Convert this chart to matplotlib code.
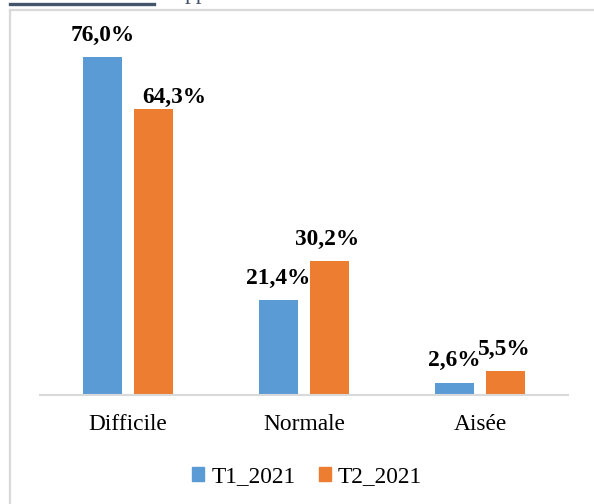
import matplotlib.pyplot as plt
import numpy as np
from matplotlib.lines import Line2D
from matplotlib.patches import Patch

# data
categories = ['Difficile', 'Normale', 'Aisée']
t1_2021 = [76.0, 21.4, 2.6]
t2_2021 = [64.3, 30.2, 5.5]
series_names = ['T1_2021', 'T2_2021']
# label nudges in pixels (dx, dy above bar top), Excel moved "64,3%" by hand
t1_nudge = [(0, 16), (0, 16), (0, 17)]
t2_nudge = [(21, 6), (-2, 16), (-1, 16)]

blue = '#5B9BD5'
orange = '#ED7D31'
font = 'Liberation Serif'
fs = 16.8

fig = plt.figure(figsize=(5.94, 5.04), dpi=100)
ax = fig.add_axes([40 / 594, 109 / 504, 528 / 594, 356 / 504])

x = np.arange(len(categories))
w = 0.222
off = 0.145
b1 = ax.bar(x - off, t1_2021, w, color=blue)
b2 = ax.bar(x + off, t2_2021, w, color=orange)

ax.set_xlim(-0.5, 2.5)
ax.set_ylim(0, 80)
ax.set_yticks([])
ax.set_xticks(x)
ax.set_xticklabels(categories, fontfamily=font, fontsize=fs)
ax.tick_params(axis='x', length=0, pad=13.5)
for s in ['top', 'right', 'left']:
    ax.spines[s].set_visible(False)
ax.spines['bottom'].set_color('#D9D9D9')
ax.spines['bottom'].set_linewidth(1.5)


def pct(v):
    return f'{v:.1f}%'.replace('.', ',')


px = 72 / 100  # pixels -> points
for bars, vals, nudges in [(b1, t1_2021, t1_nudge), (b2, t2_2021, t2_nudge)]:
    for bar, v, (dx, dy) in zip(bars, vals, nudges):
        ax.annotate(pct(v), (bar.get_x() + bar.get_width() / 2, v),
                    xytext=(dx * px, dy * px), textcoords='offset points',
                    ha='center', va='baseline', fontfamily=font,
                    fontsize=fs, fontweight='bold')

# legend
handles = [Patch(color=blue), Patch(color=orange)]
fig.legend(handles, series_names, loc='center', bbox_to_anchor=(307 / 594, 27 / 504),
           ncol=2, frameon=False, prop={'family': font, 'size': fs},
           handlelength=0.52, handleheight=0.52, handletextpad=0.3,
           columnspacing=1.0)

# chart frame and bits of the page around it
fig.add_artist(Line2D([10 / 594, 10 / 594], [0, 494 / 504], color='#D9D9D9', lw=1.6))
fig.add_artist(Line2D([10 / 594, 593 / 594], [494 / 504, 494 / 504], color='#D9D9D9', lw=1.6))
fig.add_artist(Line2D([10 / 594, 154 / 594], [500.5 / 504, 500.5 / 504], color='#44546A', lw=2.4))
fig.text(185 / 594, 1 + 1.5 / 504, 'pp', color='#44546A', fontfamily=font,
         fontsize=fs, va='baseline', ha='left')

fig.savefig('out.png', dpi=100)
